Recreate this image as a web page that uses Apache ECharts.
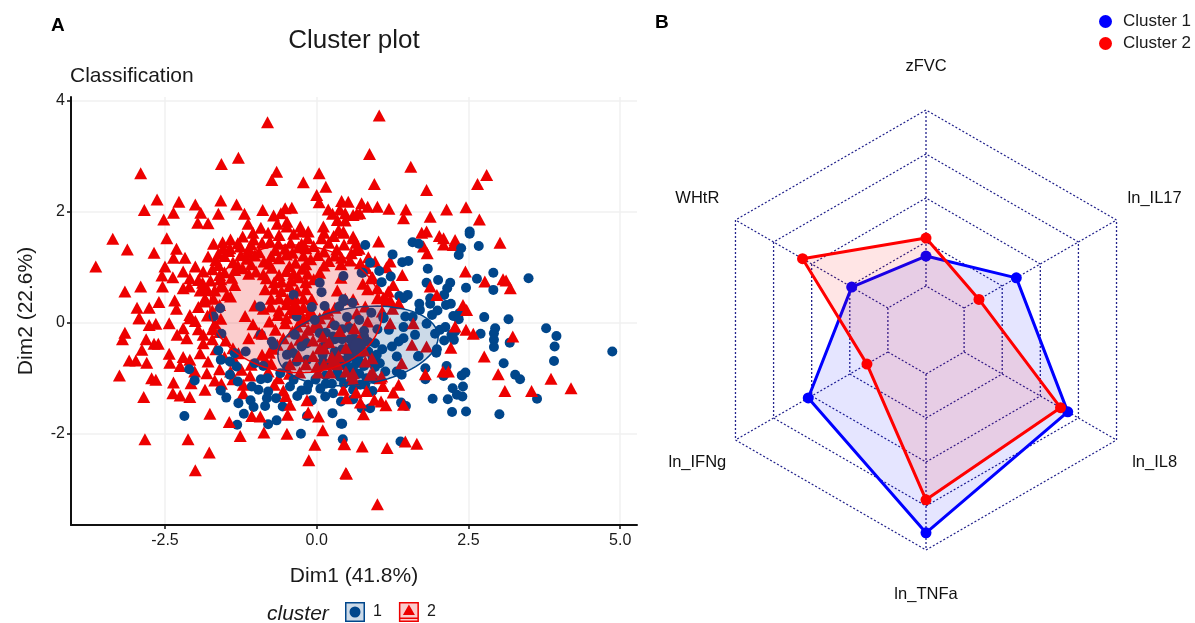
<!DOCTYPE html>
<html>
<head>
<meta charset="utf-8">
<script src="https://cdn.jsdelivr.net/npm/echarts@6/dist/echarts.min.js"></script>
<style>html,body{margin:0;padding:0;background:#fff}#c{width:1195px;height:623px}</style>
</head>
<body>
<div id="c"></div>
<script>
const FONT = '"Liberation Sans", Arial, sans-serif';
const xTicks = [-2.5, 0, 2.5, 5];
const yTicks = [-2, 0, 2, 4];

// Cluster 2, underneath the blue points
const clusterTwoBack = [
[-0.81,3.61],[-1.29,2.97],[-1.57,2.86],[-2.90,2.69],[-0.66,2.72],[-0.74,2.57],[-0.22,2.53],[0.04,2.69],[0.15,2.45],[0,2.30],[0.04,2.17],
[-2.63,2.22],[-2.27,2.18],[-2.0,2.13],[-1.58,2.20],[-1.32,2.13],[-2.84,2.03],[-2.36,1.98],[-1.91,1.98],[-1.62,1.96],[-1.19,1.96],[-0.89,2.03],
[-2.52,1.86],[-1.96,1.80],[-1.79,1.79],[-1.13,1.78],[-0.71,1.93],[-0.59,1.97],[-0.52,2.06],[-0.41,2.07],[0.19,2.04],[0.26,1.96],[0.41,2.19],[0.52,2.18],
[0.47,1.97],[0.60,1.94],[0.71,1.97],[0.47,1.84],[-0.92,1.71],[-0.49,1.73],[-0.49,1.82],[-0.27,1.73],[0.11,1.73],[-0.14,1.64],[-0.25,1.64],[0.36,1.67],[0.44,1.62],[0.60,1.55],
[-3.36,1.51],[-3.12,1.32],[-2.68,1.26],[-2.47,1.52],[-2.31,1.33],[-2.36,1.17],[-2.17,1.17],[-3.64,1.01],[-2.5,1.01],[-2.55,0.85],[-2.37,0.82],[-2.20,0.92],[-2.0,1.01],[-1.87,0.92],[-2.09,0.80],[-1.95,0.77],
[-1.70,1.42],[-1.79,1.19],[-1.54,1.34],[-1.43,1.34],[-1.26,1.37],[-1.22,1.55],[-1.04,1.50],[-0.77,1.46],[-0.63,1.42],[-0.43,1.44],[-0.25,1.42],[-1.13,1.26],
[-3.16,0.56],[-2.90,0.65],[-2.54,0.65],[-2.20,0.62],[-2.10,0.65],[-1.87,0.59],[-2.60,0.37],[-2.96,0.27],[-2.76,0.27],[-2.34,0.40],[-2.31,0.25],[-2.93,0.08],[-2.09,0.14],[-1.84,0.44],[-1.57,0.68],[-1.35,0.68],[-1.48,0.50],
[1.03,3.73],[0.87,3.04],[1.55,2.81],[0.95,2.50],[1.81,2.39],[2.80,2.66],[2.65,2.50],[2.14,2.04],[2.46,2.08],[1.47,2.04],[1.19,2.05],[1.0,2.09],[0.84,2.09],[0.74,2.15],
[1.43,1.88],[1.87,1.91],[2.68,1.86],[0.66,1.96],[1.81,1.64],[1.73,1.62],[2.02,1.56],[2.09,1.52],[2.28,1.49],[2.09,1.41],[2.25,1.40],[3.02,1.44],[1.02,1.46],[0.60,1.52],[0.65,1.44],
[1.76,1.37],[1.82,1.25],[0.65,1.31],[0.85,1.18],[0.96,1.10],[1.21,1.10],[1.15,1.0],[0.44,1.64],[2.45,0.92],[2.77,0.74],[3.07,0.78],[3.12,0.76],[3.19,0.62],[1.41,0.86],[1.26,0.68],
[-2.92,0.08],[-2.76,-0.04],[-2.65,-0.02],[-2.43,-0.01],[-3.16,-0.18],[-3.20,-0.30],[-2.81,-0.30],[-2.68,-0.38],[-2.61,-0.38],[-2.88,-0.49],[-3.09,-0.68],[-2.98,-0.68],[-2.80,-0.72],[-3.25,-0.95],
[-2.72,-1.0],[-2.65,-1.03],[-2.85,-1.34],[-2.36,-1.08],[-2.37,-1.27],[-2.25,-1.31],[-2.09,-1.34],[-1.84,-1.21],[-1.68,-1.04],[-1.57,-1.10],
[-2.43,-0.56],[-2.42,-0.72],[-2.20,-0.62],[-2.25,-0.78],[-2.14,-0.28],[-2.30,-0.22],[-2.09,-0.67],[-2.01,-0.88],[-2.07,-1.09],[-1.81,-0.91],[-1.87,-0.37],[-1.79,-0.70],[-1.92,-0.55],[-2.09,0.08],[-2.20,-0.10],[-1.87,-0.22],
[-1.45,1.29],[-1.12,1.33],[-0.95,1.27],[-0.68,1.31],[-0.40,1.26],[-0.18,1.34],[0.12,1.28],[0.33,1.32],[0.57,1.25],[0.70,1.33],
[-1.66,1.13],[-1.38,1.09],[-1.15,1.15],[-0.87,1.10],[-0.62,1.16],[-0.35,1.08],[-0.10,1.14],[0.20,1.11],[0.41,1.17],[0.72,1.07],
[-1.72,0.96],[-1.52,0.91],[-1.22,0.98],[-1.0,0.92],[-0.74,0.99],[-0.50,0.93],[-0.24,0.97],[0.05,0.90],
[-1.75,0.76],[-1.40,0.81],[-0.83,0.80],[-0.58,0.74],[-0.30,0.82],[-0.05,0.78],[0.40,0.81],[0.90,0.80],
[-1.80,0.60],[-1.55,0.65],[-0.70,0.61],[-0.45,0.66],[-0.18,0.60],[0.34,0.58],[0.84,0.60],
[-1.70,0.43],[-1.42,0.47],[-0.62,0.44],[-0.36,0.46],[-0.08,0.42],[0.47,0.43],[1.00,0.44],
[-1.95,0.28],[-1.60,0.32],[-1.02,0.31],[-0.76,0.29],[-0.50,0.33],[-0.22,0.28],[0.30,0.27],[0.80,0.29],
[-1.80,0.13],[-1.18,0.12],[-0.64,0.14],[-0.38,0.18],[-0.12,0.13],[0.15,0.16],[0.66,0.17],
[-1.68,-0.02],[-1.05,-0.03],[-0.78,0.02],[-0.52,-0.01],[-0.26,0.03],[0.02,-0.03],[0.26,0.01],[0.52,-0.02],[0.84,0.02],
[-1.60,-0.17],[-0.95,-0.18],[-0.68,-0.13],[-0.40,-0.16],[-0.14,-0.13],
[-1.50,-0.32],[-1.12,-0.28],[-0.55,-0.28],[-0.28,-0.31],
[-1.38,-0.46],[-0.72,-0.47],[-0.42,-0.44],[-0.90,-0.58],[-1.08,-0.76],[-0.75,-0.73],
[-1.29,-0.55],[-1.24,-0.85],[-1.21,-1.12],[-1.21,-1.27],[-0.63,-1.0],[-0.85,-0.67],
// more of the dense upper and left parts
[-1.55,1.45],[-1.30,1.43],[-1.08,1.41],[-0.90,1.44],[-0.52,1.33],[-0.30,1.36],[-0.05,1.38],[0.20,1.44],[0.45,1.41],
[-1.52,1.20],[-1.25,1.22],[-1.02,1.21],[-0.75,1.20],[-0.50,1.23],[-0.22,1.21],[0.02,1.22],[0.30,1.21],[0.55,1.12],
[-1.62,1.04],[-1.30,1.03],[-1.08,1.05],[-0.78,1.06],[-0.45,1.02],[-0.18,1.05],[0.12,1.03],[0.40,1.05],
[-1.60,0.86],[-1.35,0.95],[-1.12,0.88],[-0.88,0.87],[-0.62,0.86],[-0.38,0.88],[-0.15,0.88],
[-1.88,0.72],[-1.58,0.78],[-0.70,0.73],[-0.42,0.76],[-0.18,0.73],[0.76,0.70],
[-1.92,0.58],[-1.68,0.58],[-0.85,0.60],[-0.58,0.57],[-0.32,0.58],
[-1.85,0.38],[-0.75,0.43],[-0.48,0.42],[-0.22,0.44],[0.60,0.42],
[-1.72,0.22],[-0.88,0.25],[-0.62,0.22],[-0.35,0.24],[-0.10,0.22],[0.18,0.22],
[-2.00,0.03],[-1.58,0.07],[-0.50,0.08],[-0.22,0.08],[0.05,0.08],
[-1.95,-0.12],[-1.72,-0.12],[-0.32,-0.07],[-0.05,-0.08],
[-1.72,-0.30],[-0.20,-0.24],[-1.66,-0.48],[-0.65,-0.40],
[-1.52,-0.62],[-1.35,-0.68],[-0.78,-0.54],
[-1.60,-0.84],[-1.42,-0.88],[-1.10,-0.95],[-0.80,-0.88],[-0.45,-0.92],[-1.38,-1.02],[-0.70,-1.12],[-0.55,-1.22],
[-0.80,1.62],[-0.62,1.58],[-0.38,1.60],[-0.15,1.52],[0.08,1.52],[0.28,1.56],[0.12,1.62],[0.34,1.85],[0.38,2.04],[-0.65,1.78],[-1.05,1.62],[-1.42,1.50],[-1.62,1.24],
[0.82,0.98],[0.92,0.82],[1.00,0.62],[1.08,0.20],[1.10,0.45]
];

const clusterOne = [
[0.80,1.40],[1.25,1.23],[0.88,1.08],[1.41,1.09],[1.51,1.11],[1.58,1.45],[1.68,1.42],[2.52,1.64],[2.52,1.60],[2.38,1.34],[2.34,1.22],[2.67,1.38],[1.83,0.97],[1.03,0.93],[1.22,0.83],[1.07,0.73],[0.76,0.90],
[1.81,0.72],[2.0,0.77],[2.20,0.72],[2.15,0.62],[2.46,0.63],[2.91,0.90],[2.64,0.79],[2.91,0.59],[3.49,0.80],[2.10,0.50],[1.50,0.50],[1.36,0.48],[1.43,0.44],[1.87,0.44],[1.87,0.34],[1.69,0.34],[2.13,0.32],[2.21,0.34],
[1.99,0.22],[1.90,0.14],[1.70,0.23],[2.25,0.12],[2.35,0.17],[2.76,0.10],[3.16,0.06],[1.10,0.08],[1.46,0.11],[1.58,0.10],[0.44,0.38],[0.59,0.36],[0.44,0.84],
[2.34,0.06],[2.12,-0.08],[1.95,-0.20],[2.03,-0.13],[2.28,-0.16],[2.22,-0.22],[2.26,-0.31],[2.10,-0.32],[2.70,-0.20],[2.94,-0.10],[2.92,-0.19],[2.92,-0.31],[2.92,-0.44],[3.18,-0.36],[3.78,-0.10],[3.95,-0.24],[3.92,-0.43],[3.91,-0.69],[4.87,-0.52],
[3.08,-0.73],[3.27,-0.94],[3.35,-1.02],[3.63,-1.37],[1.98,-0.48],[1.97,-0.54],[1.67,-0.61],[2.14,-0.78],[1.79,-0.82],[2.09,-0.96],[2.39,-0.95],[2.45,-0.90],[1.79,-1.02],[2.24,-1.18],[2.41,-1.15],[2.31,-1.30],[2.40,-1.33],[2.16,-1.38],[1.91,-1.37],
[2.23,-1.61],[2.46,-1.60],[3.01,-1.65],[1.38,-2.14],[1.47,-1.50],[1.39,-1.44],[0.88,-1.54],[0.74,-1.54],[0.42,-1.82],[0.43,-2.10],[0.92,-1.23],[0.60,-1.38],[1.40,-0.94],[1.32,-0.88],[1.13,-0.88],[0.82,-1.0],[1.04,-0.73],[1.32,-0.61],
[1.19,-0.13],[1.10,0.10],[0.96,-0.37],[1.81,-0.02],[1.43,-0.08],[1.62,-0.22],[1.43,-0.28],[1.35,-0.34],[1.24,-0.43],[1.68,-0.60],[0.99,-0.58],[0.95,-0.73],
[-2.18,-1.68],[-2.10,-0.84],[-2.01,-1.04],[-1.70,0.11],[-1.57,-0.20],[-1.62,-0.50],[-1.58,-0.67],[-1.43,-0.70],[-1.32,-0.79],[-1.43,-0.94],[-1.30,-1.06],[-1.07,-1.15],[-0.96,-1.21],[-0.92,-1.02],[-0.81,-1.0],[-0.80,-1.24],[-0.82,-1.36],[-0.67,-1.36],
[-1.09,-1.40],[-1.04,-1.52],[-0.85,-1.50],[-0.56,-1.51],[-1.29,-1.45],[-1.49,-1.35],[-1.58,-1.22],[-1.20,-1.64],[-1.31,-1.84],[-0.80,-1.83],[-0.66,-1.76],[-0.26,-2.0],[-0.16,-1.68],[-0.08,-1.40],[0.26,-1.63],[0.40,-1.82],
[-0.32,-1.32],[-0.44,-1.15],[-0.16,-1.21],[0.14,-1.33],[0.40,-1.42],[0.27,-1.27],[0.06,-1.19],[-1.17,-0.52],[-1.35,-0.55],[-0.92,-0.22],[-0.74,-0.34],[-0.71,-0.40],[-1.02,-0.73],[-0.88,-0.78],
[-0.49,-0.58],[-0.38,-0.55],[-0.49,-0.79],[-0.33,-0.70],[-0.16,-0.67],[-0.16,-0.37],[0.05,-0.19],[0.27,-0.25],[-0.03,0.05],[-0.36,-0.22],[-0.25,-0.43],[-0.60,-0.91],[-0.38,-1.03],[-0.14,-1.12],
[0.63,-0.43],[0.66,-0.73],[0.74,-0.55],[0.38,-0.97],[0.55,-0.85],[0.60,-1.21],[0.05,0.72],[0.08,0.55],[0.13,0.30],[-0.08,0.28],[0.44,0.42],[0.37,0.29],[-0.38,0.50],[-0.33,0.11],[-1.59,0.26],[-0.93,0.29],[0.74,0.90],
[0.50,0.10],[0.70,0.05],[0.90,0.18],[0.30,-0.05],[0.55,-0.10],[0.78,-0.15],[1.00,-0.12],[0.20,-0.38],[0.42,-0.30],[0.62,-0.28],[0.85,-0.35],[1.08,-0.48],[0.10,-0.58],[0.30,-0.52],[0.52,-0.55],[0.72,-0.42],[0.92,-0.62],[0.05,-0.80],
[0.22,-0.74],[0.40,-0.68],[0.60,-0.62],[0.78,-0.78],[0.96,-0.80],[0.15,-0.95],[0.34,-0.88],[0.48,-0.78],[0.70,-0.92],[0.95,-1.02],[0.25,-1.10],[0.45,-1.10],[0.72,-1.12],
[0.58,-0.42],[0.78,-0.25],[0.42,-0.12],[0.15,-0.18],[0.55,-0.30],[0.66,-0.52],[0.85,-0.52],[0.42,-0.48],[0.30,-0.30],[0.12,-0.42],
[0.50,-0.66],[0.70,-0.70],[0.28,-0.62],[0.10,-0.70],[0.60,-0.80],[0.40,-0.98],[0.58,-1.02],[0.80,-1.12],[-0.02,-1.02],[0.15,-1.10],[-0.25,-1.22]
];

// Cluster 2, on top of the blue points
const clusterTwoFront = [
[0.20,-0.35],[0.38,-0.15],[0.10,-0.25],[0.48,-0.45],[0.36,-0.60],[0.12,-0.46],[0.25,-0.62],[-0.06,-0.60],[0.12,-0.75],[0.34,-0.75],[0.58,-0.95],[0.80,-0.70],[0.92,-0.90],[1.05,-1.00],[0.22,-0.90],[0.02,-0.90],[0.48,-0.88],[0.78,-0.50],
[0.62,-0.10],[0.70,-0.30],[1.25,0.25],[1.15,0.40],[1.35,0.35],[1.21,0.41],[1.18,0.56],[1.87,0.65],[1.98,0.50],[2.41,0.32],[2.47,0.23],
[1.57,-0.40],[1.07,-0.97],[1.21,-0.01],[1.59,-0.01],[0.91,-0.64],
[2.46,-0.13],[2.58,-0.20],[3.23,-0.25],[2.21,-0.45],[2.76,-0.61],[2.99,-0.93],[3.86,-1.01],[4.19,-1.18],[3.10,-1.23],[3.54,-1.23],[2.28,-0.07],[1.79,-0.93],[2.08,-0.88],[2.17,-0.88],[1.81,-0.43],[1.40,-0.73],[1.35,-1.12],[1.26,-1.26],
[1.09,-1.14],[0.82,-1.23],[0.65,-1.26],[0.49,-1.36],[0.72,-1.44],[0.95,-1.39],[1.06,-1.42],[1.14,-1.49],[1.43,-1.48],[0.77,-1.65],[0.46,-2.19],[0.75,-2.23],[1.16,-2.26],[1.46,-2.14],[1.65,-2.18],[0.48,-2.71],[1.0,-3.27],[0.88,-0.94],[0.60,-1.03],
[-1.76,-1.64],[-1.44,-1.79],[-1.26,-2.04],[-2.83,-2.10],[-2.12,-2.10],[-1.77,-2.34],[-2.0,-2.66],[-0.87,-1.98],[-0.49,-2.0],[-1.07,-1.68],[-0.93,-1.69],[-0.48,-1.66],[0.03,-1.69],[-0.14,-1.62],[0.10,-1.94],[-0.03,-2.20],[-0.13,-2.48],[0.49,-2.72],[0.45,-2.18],
[-0.51,-1.32],[-0.44,-1.48],[-0.16,-1.40],[0.44,-1.21],[0.25,-0.73],[0,-0.79],[0.60,-0.91],[0.05,-0.46],[-0.30,-0.60],[-0.06,-0.32],[-0.18,-0.75],[-0.28,-0.90],[-0.44,-0.75],[-0.90,-0.20]
];

const clusterOneCentre = [[0.68,-0.42]];
const clusterTwoCentre = [[-0.36,0.30]];

// ellipse: centre x, centre y, half width, half height, tilt (y change at the right end)
const ellipseOne = [0.68,-0.42,1.32,0.70,0.16];
const ellipseTwo = [-0.34,0.25,1.42,1.15,-0.05];

// Radar panel, counter-clockwise from the top
const indicators = ['zFVC','WHtR','ln_IFNg','ln_TNFa','ln_IL8','ln_IL17'];
const radarOne = [1.68,1.95,3.09,4.61,3.72,2.37];
const radarTwo = [2.09,3.24,1.55,3.86,3.53,1.39];

const RING = 5, HOLE = 1, LABEL_RING = 6;
const dirs = indicators.map((_, i) => {
  const a = Math.PI / 2 + i * Math.PI / 3;
  return [Math.cos(a), Math.sin(a)];
});

const BLUE = '#00468B', RED = '#ED0000', NAVY = '#23238c', TXT = '#1a1a1a';
const TRI = [13, 12], DOT = 10;

function ellipseSeries(p, color, fill) {
  return {
    type: 'custom', silent: true, z: 5, xAxisIndex: 0, yAxisIndex: 0, data: [[p[0], p[1]]],
    encode: {x: 0, y: 1}, clip: false,
    renderItem: (params, api) => {
      const pts = [];
      for (let k = 0; k < 90; k++) {
        const t = k / 90 * 2 * Math.PI;
        pts.push(api.coord([p[0] + p[2] * Math.cos(t), p[1] + p[3] * Math.sin(t) + p[4] * Math.cos(t)]));
      }
      return {type: 'polygon', shape: {points: pts}, style: {fill: fill, stroke: color, lineWidth: 1.5}};
    }
  };
}

const axisCommon = {
  type: 'value', nameLocation: 'middle',
  nameTextStyle: {fontFamily: FONT, fontSize: 21, color: TXT},
  axisLine: {show: true, onZero: false, lineStyle: {color: '#111', width: 2}},
  splitLine: {show: true, lineStyle: {color: '#f0f0f0', width: 1.5}},
};

const hiddenAxis = {type: 'value', min: -LABEL_RING, max: LABEL_RING, show: false, gridIndex: 1};

const spokes = dirs.map(d => ({
  type: 'line', xAxisIndex: 1, yAxisIndex: 1, silent: true, symbol: 'none', z: 1,
  lineStyle: {color: NAVY, width: 1.3, type: [2, 2]},
  data: [[d[0] * HOLE, d[1] * HOLE], [d[0] * RING, d[1] * RING]]
}));

const option = {
  animation: false,
  backgroundColor: '#fff',
  textStyle: {fontFamily: FONT},
  title: [
    {text: 'A', left: 51, top: 16, padding: 0, textStyle: {fontFamily: FONT, fontSize: 19, fontWeight: 'bold', color: '#000'}},
    {text: 'B', left: 655, top: 13, padding: 0, textStyle: {fontFamily: FONT, fontSize: 19, fontWeight: 'bold', color: '#000'}},
    {text: 'Cluster plot', left: 354, textAlign: 'center', top: 28, padding: 0, textStyle: {fontFamily: FONT, fontSize: 26, fontWeight: 'normal', color: TXT}},
    {text: 'Classification', left: 70, top: 66, padding: 0, textStyle: {fontFamily: FONT, fontSize: 21, fontWeight: 'normal', color: TXT}},
    {text: 'cluster', left: 267, top: 604, padding: 0, textStyle: {fontFamily: FONT, fontSize: 21, fontStyle: 'italic', fontWeight: 'normal', color: TXT}}
  ],
  graphic: [
    {type: 'rect', left: 345, top: 602, z: 0, shape: {width: 20, height: 20}, style: {fill: 'rgba(0,70,139,0.2)'}},
    {type: 'rect', left: 399, top: 602, z: 0, shape: {width: 20, height: 20}, style: {fill: 'rgba(237,0,0,0.2)'}}
  ],
  legend: [
    {
      data: [
        {name: '1', icon: 'path://M0 0H20V20H0Z M1.5 1.5V18.5H18.5V1.5Z M10 4.5a5.5 5.5 0 1 0 .01 0Z'},
        {name: '2', icon: 'path://M0 0H20V20H0Z M1.5 1.5V18.5H18.5V1.5Z M10 2.5L16 13H4Z M1.5 15.5H18.5V17H1.5Z'}
      ],
      left: 345, top: 602, padding: 0, itemWidth: 20, itemHeight: 20, itemGap: 17, selectedMode: false,
      textStyle: {fontFamily: FONT, fontSize: 16, color: TXT, padding: [0, 0, 0, 3]}
    },
    {
      data: [{name: 'Cluster 1', icon: 'circle'}, {name: 'Cluster 2', icon: 'circle'}],
      orient: 'vertical', left: 1099, top: 13, padding: 0, itemWidth: 13, itemHeight: 13, itemGap: 5, selectedMode: false,
      textStyle: {fontFamily: FONT, fontSize: 17, color: TXT, padding: [0, 0, 0, 6]}
    }
  ],
  grid: [
    {left: 71, top: 97, width: 566, height: 428},
    {left: 662, top: 66, width: 528, height: 528}
  ],
  xAxis: [
    Object.assign({}, axisCommon, {
      gridIndex: 0, min: -4.048, max: 5.277, name: 'Dim1 (41.8%)', nameGap: 41,
      axisTick: {show: true, length: 4, customValues: xTicks, lineStyle: {color: '#111', width: 1.5}},
      axisLabel: {customValues: xTicks, fontFamily: FONT, fontSize: 16, color: TXT, margin: 8, formatter: v => v.toFixed(1)}
    }),
    Object.assign({}, hiddenAxis)
  ],
  yAxis: [
    Object.assign({}, axisCommon, {
      gridIndex: 0, min: -3.645, max: 4.065, name: 'Dim2 (22.6%)', nameGap: 34,
      axisTick: {show: true, length: 4, customValues: yTicks, lineStyle: {color: '#111', width: 1.5}},
      axisLabel: {customValues: yTicks, fontFamily: FONT, fontSize: 16, color: TXT, margin: 6, formatter: v => String(v)}
    }),
    Object.assign({}, hiddenAxis)
  ],
  radar: {
    center: [926, 330], radius: 220, startAngle: 90, splitNumber: RING, shape: 'polygon',
    indicator: indicators.map(n => ({name: n, min: 0, max: RING})),
    axisName: {show: false},
    axisLine: {show: false}, axisTick: {show: false}, axisLabel: {show: false},
    splitArea: {show: false},
    splitLine: {lineStyle: {color: NAVY, width: 1.3, type: [2, 2]}}
  },
  series: [
    {name: '2', type: 'scatter', data: clusterTwoBack, symbol: 'triangle', symbolSize: TRI, itemStyle: {color: RED, opacity: 1}, silent: true, z: 2},
    {name: '1', type: 'scatter', data: clusterOne, symbol: 'circle', symbolSize: DOT, itemStyle: {color: BLUE, opacity: 1}, silent: true, z: 3},
    {name: '2', type: 'scatter', data: clusterTwoFront, symbol: 'triangle', symbolSize: TRI, itemStyle: {color: RED, opacity: 1}, silent: true, z: 4},
    {name: '1', type: 'scatter', data: clusterOneCentre, symbol: 'circle', symbolSize: 16, itemStyle: {color: BLUE, opacity: 1}, silent: true, z: 4},
    {name: '2', type: 'scatter', data: clusterTwoCentre, symbol: 'triangle', symbolSize: [20, 18], itemStyle: {color: RED, opacity: 1}, silent: true, z: 4},
    ellipseSeries(ellipseOne, BLUE, 'rgba(0,70,139,0.2)'),
    ellipseSeries(ellipseTwo, RED, 'rgba(237,0,0,0.2)'),
    ...spokes,
    {
      type: 'scatter', xAxisIndex: 1, yAxisIndex: 1, silent: true, symbolSize: 0, z: 6,
      itemStyle: {opacity: 1},
      data: indicators.map((n, i) => ({name: n, value: [dirs[i][0] * LABEL_RING, dirs[i][1] * LABEL_RING]})),
      label: {show: true, position: 'inside', formatter: '{b}', fontFamily: FONT, fontSize: 16.5, color: '#111', opacity: 1, textBorderWidth: 0, align: 'center', verticalAlign: 'middle'}
    },
    {
      name: 'Cluster 1', type: 'radar', z: 7, silent: true, symbol: 'circle', symbolSize: 11,
      data: [{name: 'Cluster 1', value: radarOne}],
      itemStyle: {color: '#0000ff'}, lineStyle: {color: '#0000ff', width: 3}, areaStyle: {color: '#0000ff', opacity: 0.1}
    },
    {
      name: 'Cluster 2', type: 'radar', z: 8, silent: true, symbol: 'circle', symbolSize: 11,
      data: [{name: 'Cluster 2', value: radarTwo}],
      itemStyle: {color: '#ff0000'}, lineStyle: {color: '#ff0000', width: 3}, areaStyle: {color: '#ff0000', opacity: 0.1}
    }
  ]
};

const chart = echarts.init(document.getElementById('c'), null, {renderer: 'canvas'});
chart.setOption(option);
</script>
</body>
</html>
